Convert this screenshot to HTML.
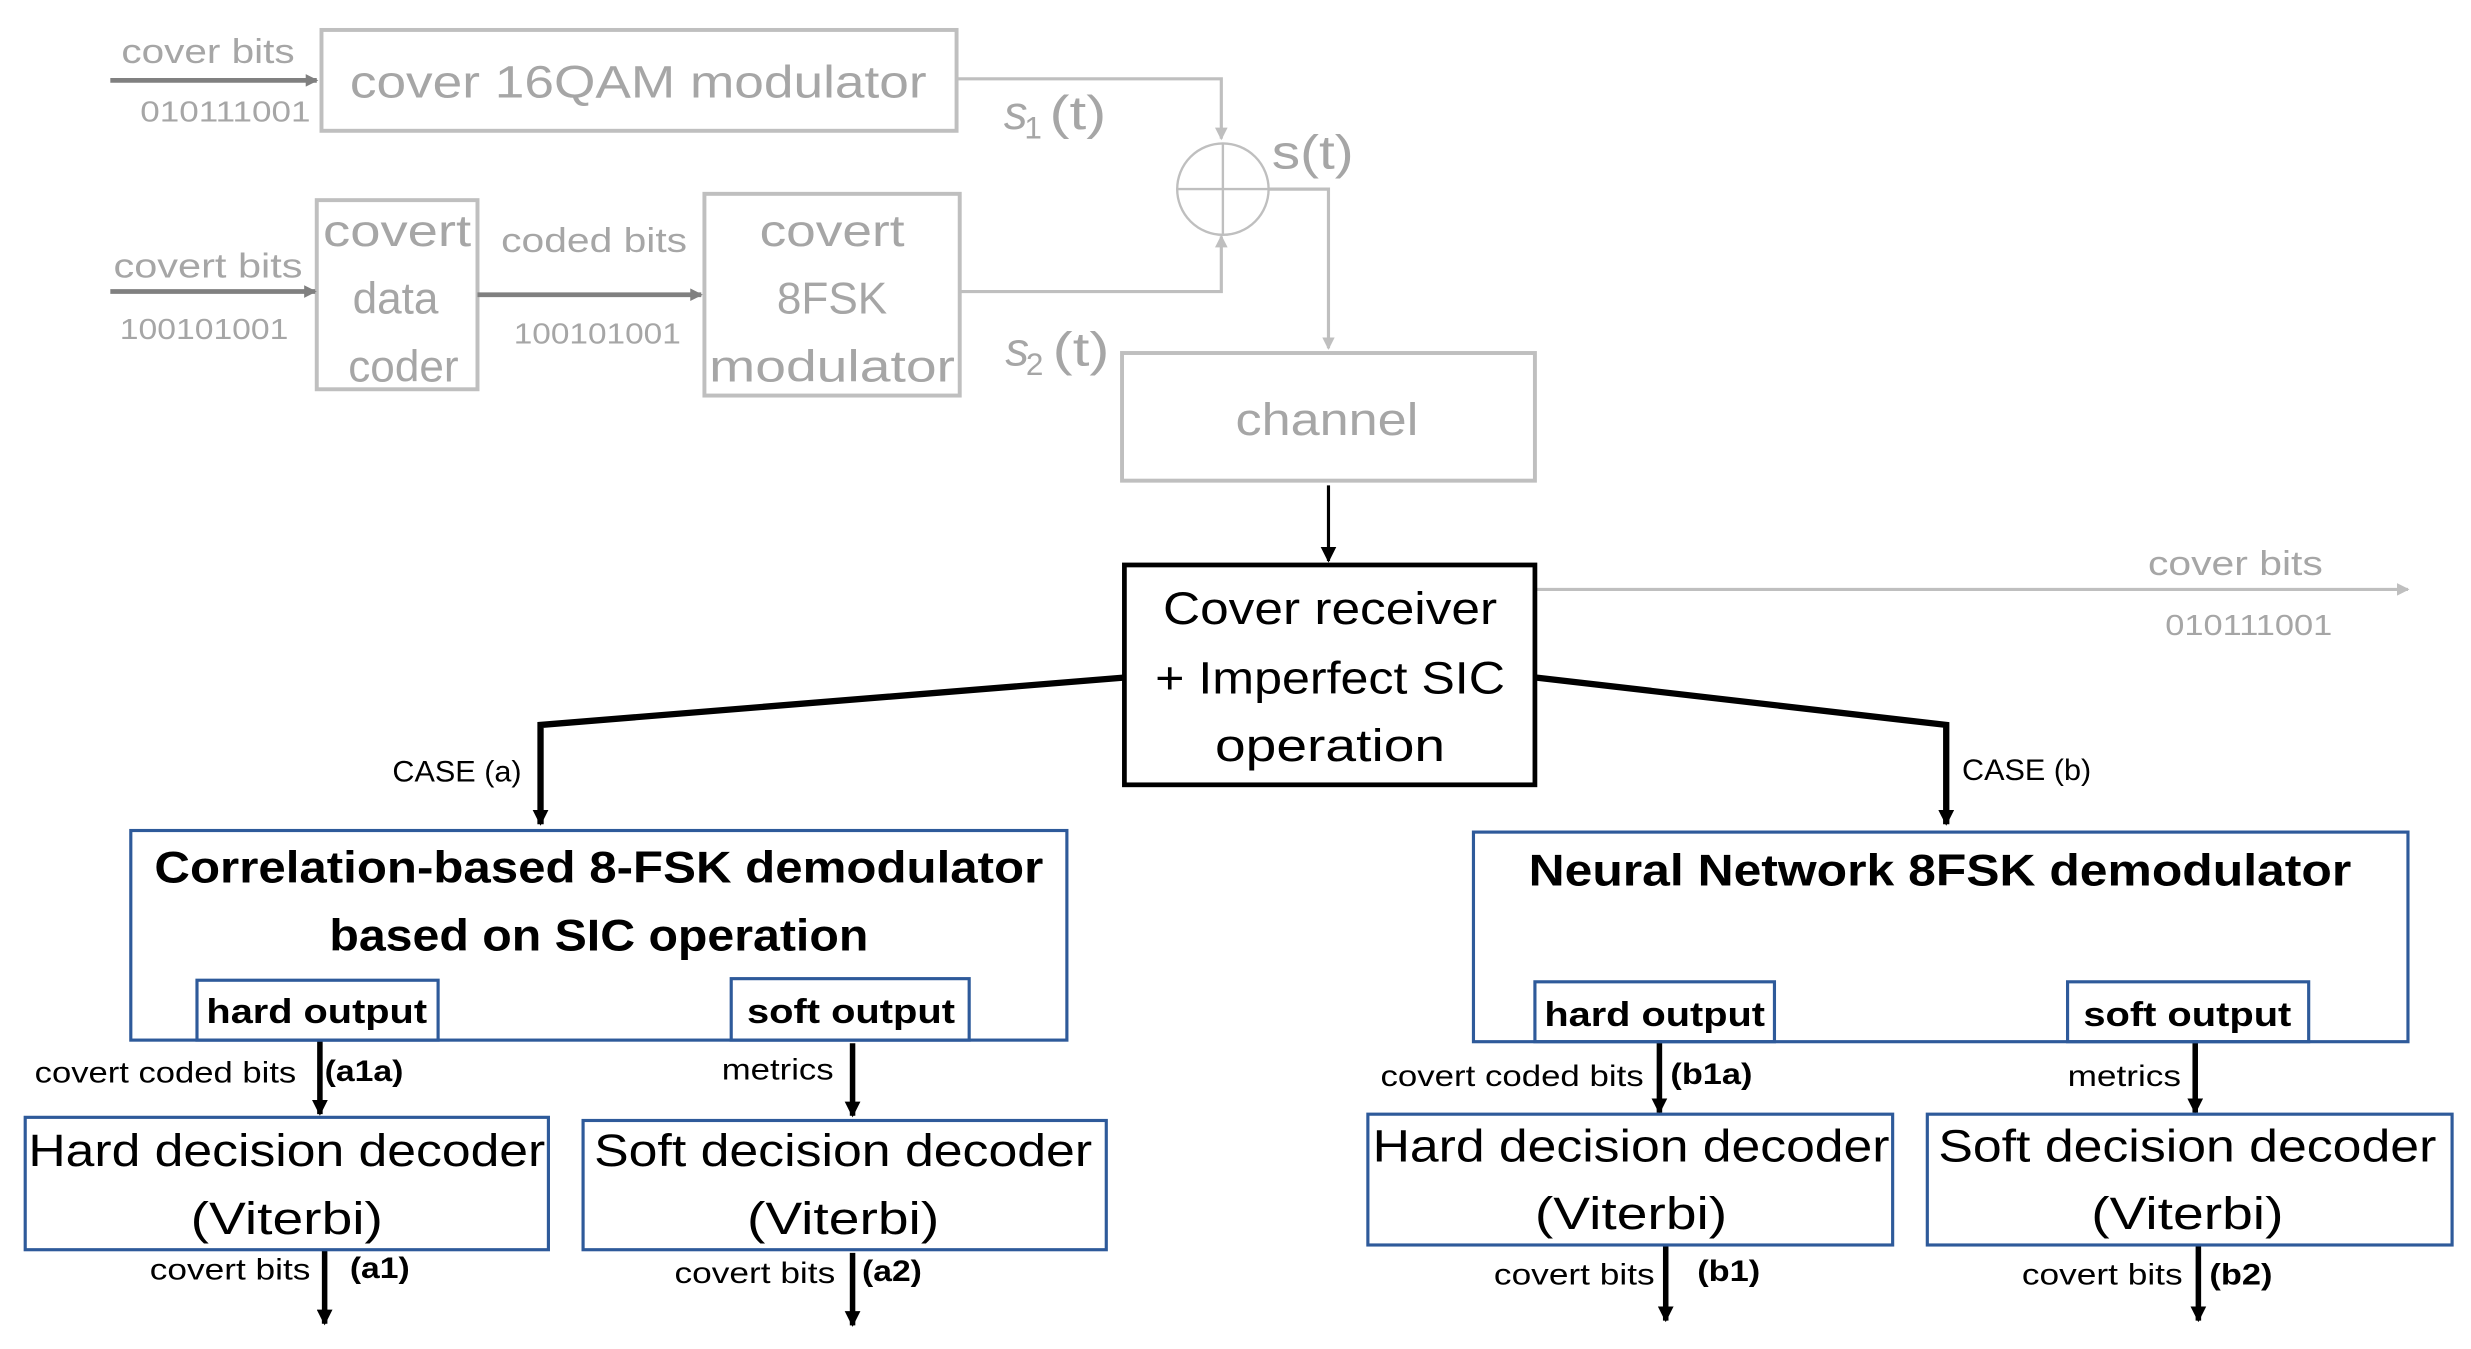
<!DOCTYPE html>
<html><head><meta charset="utf-8"><style>
html,body{margin:0;padding:0;background:#fff;}
svg{display:block;}
text{font-family:"Liberation Sans",sans-serif;}
</style></head><body>
<svg width="2471" height="1349" viewBox="0 0 1568 856" preserveAspectRatio="none" xmlns="http://www.w3.org/2000/svg">
<defs>
<marker id="ag" markerWidth="8" markerHeight="8" refX="7" refY="4" orient="auto" markerUnits="userSpaceOnUse"><path d="M0,0 L8,4 L0,8 Z" fill="#808080"/></marker>
<marker id="al" markerWidth="8" markerHeight="8" refX="7" refY="4" orient="auto" markerUnits="userSpaceOnUse"><path d="M0,0 L8,4 L0,8 Z" fill="#bfbfbf"/></marker>
<marker id="ab" markerWidth="10" markerHeight="10" refX="9" refY="5" orient="auto" markerUnits="userSpaceOnUse"><path d="M0,0 L10,5 L0,10 Z" fill="#000"/></marker>
</defs>
<g fill="none" stroke="#bfbfbf" stroke-width="2.5">
<rect x="204" y="19" width="403" height="64"/>
<rect x="201" y="127" width="102" height="120"/>
<rect x="447" y="123" width="162" height="128"/>
<rect x="712" y="224" width="262" height="81"/>
<circle cx="776" cy="120" r="29" stroke-width="1.5"/>
<line x1="747" y1="120" x2="805" y2="120" stroke-width="1.5"/>
<line x1="776" y1="91" x2="776" y2="149" stroke-width="1.5"/>
</g>
<g fill="none" stroke="#bfbfbf" stroke-width="2">
<polyline points="607,50 775,50 775,88" marker-end="url(#al)"/>
<polyline points="609,185 775,185 775,150" marker-end="url(#al)"/>
<polyline points="805,120 843,120 843,221" marker-end="url(#al)"/>
<line x1="975" y1="374" x2="1528" y2="374" marker-end="url(#al)"/>
</g>
<g stroke="#808080" stroke-width="3">
<line x1="70" y1="51" x2="201" y2="51" marker-end="url(#ag)"/>
<line x1="70" y1="185" x2="200" y2="185" marker-end="url(#ag)"/>
<line x1="303" y1="187" x2="445" y2="187" marker-end="url(#ag)"/>
</g>
<g fill="#a6a6a6">
<text x="77" y="40" font-size="22" textLength="110" lengthAdjust="spacingAndGlyphs">cover bits</text>
<text x="89" y="77" font-size="18" font-family="Liberation Mono" textLength="108" lengthAdjust="spacingAndGlyphs">010111001</text>
<text x="222" y="62" font-size="29" textLength="366" lengthAdjust="spacingAndGlyphs">cover 16QAM modulator</text>
<text x="637" y="82" font-size="30" font-family="Liberation Serif" font-style="italic">s</text>
<text x="650" y="88" font-size="20">1</text>
<text x="666" y="82" font-size="30" textLength="36" lengthAdjust="spacingAndGlyphs">(t)</text>
<text x="807" y="107" font-size="30" textLength="52" lengthAdjust="spacingAndGlyphs">s(t)</text>
<text x="72" y="176" font-size="22" textLength="120" lengthAdjust="spacingAndGlyphs">covert bits</text>
<text x="76" y="215" font-size="18" font-family="Liberation Mono" textLength="107" lengthAdjust="spacingAndGlyphs">100101001</text>
<text x="252" y="156" font-size="28" text-anchor="middle" textLength="94" lengthAdjust="spacingAndGlyphs">covert</text>
<text x="251" y="199" font-size="28" text-anchor="middle">data</text>
<text x="256" y="242" font-size="28" text-anchor="middle">coder</text>
<text x="318" y="160" font-size="22" textLength="118" lengthAdjust="spacingAndGlyphs">coded bits</text>
<text x="326" y="218" font-size="18" font-family="Liberation Mono" textLength="106" lengthAdjust="spacingAndGlyphs">100101001</text>
<text x="528" y="156" font-size="28" text-anchor="middle" textLength="92" lengthAdjust="spacingAndGlyphs">covert</text>
<text x="528" y="199" font-size="28" text-anchor="middle">8FSK</text>
<text x="528" y="242" font-size="28" text-anchor="middle" textLength="156" lengthAdjust="spacingAndGlyphs">modulator</text>
<text x="638" y="232" font-size="30" font-family="Liberation Serif" font-style="italic">s</text>
<text x="651" y="238" font-size="20">2</text>
<text x="668" y="232" font-size="30" textLength="36" lengthAdjust="spacingAndGlyphs">(t)</text>
<text x="842" y="276" font-size="29" text-anchor="middle" textLength="116" lengthAdjust="spacingAndGlyphs">channel</text>
<text x="1363" y="365" font-size="22" textLength="111" lengthAdjust="spacingAndGlyphs">cover bits</text>
<text x="1374" y="403" font-size="18" font-family="Liberation Mono" textLength="106" lengthAdjust="spacingAndGlyphs">010111001</text>
</g>
<g stroke="#000" fill="none">
<line x1="843" y1="308" x2="843" y2="356" stroke-width="2" marker-end="url(#ab)"/>
<rect x="713.5" y="358.5" width="260.5" height="139.5" stroke-width="3"/>
<polyline points="713,430 343,460 343,523" stroke-width="4" marker-end="url(#ab)"/>
<polyline points="975,430 1235,460 1235,523" stroke-width="4" marker-end="url(#ab)"/>
<g stroke-width="3.5">
<line x1="203" y1="660" x2="203" y2="707" marker-end="url(#ab)"/>
<line x1="541" y1="662" x2="541" y2="708" marker-end="url(#ab)"/>
<line x1="206" y1="793" x2="206" y2="840" marker-end="url(#ab)"/>
<line x1="541" y1="795" x2="541" y2="841" marker-end="url(#ab)"/>
<line x1="1053" y1="660" x2="1053" y2="706" marker-end="url(#ab)"/>
<line x1="1393" y1="660" x2="1393" y2="706" marker-end="url(#ab)"/>
<line x1="1057" y1="790" x2="1057" y2="838" marker-end="url(#ab)"/>
<line x1="1395" y1="790" x2="1395" y2="838" marker-end="url(#ab)"/>
</g>
</g>
<g fill="none" stroke="#2e5a9a" stroke-width="2">
<rect x="83" y="527" width="594" height="133"/>
<rect x="125" y="622" width="153" height="38"/>
<rect x="464" y="621" width="151" height="39"/>
<rect x="16" y="709" width="332" height="84"/>
<rect x="370" y="711" width="332" height="82"/>
<rect x="935" y="528" width="593" height="133"/>
<rect x="974" y="623" width="152" height="38"/>
<rect x="1312" y="623" width="153" height="38"/>
<rect x="868" y="707" width="333" height="83"/>
<rect x="1223" y="707" width="333" height="83"/>
</g>
<g fill="#000">
<text x="844" y="396" font-size="29" text-anchor="middle" textLength="212" lengthAdjust="spacingAndGlyphs">Cover receiver</text>
<text x="844" y="440" font-size="29" text-anchor="middle" textLength="222" lengthAdjust="spacingAndGlyphs">+ Imperfect SIC</text>
<text x="844" y="483" font-size="29" text-anchor="middle" textLength="146" lengthAdjust="spacingAndGlyphs">operation</text>
<text x="249" y="496" font-size="19" textLength="82" lengthAdjust="spacingAndGlyphs">CASE (a)</text>
<text x="1245" y="495" font-size="19" textLength="82" lengthAdjust="spacingAndGlyphs">CASE (b)</text>
<g font-weight="bold">
<text x="380" y="560" font-size="28" text-anchor="middle" textLength="564" lengthAdjust="spacingAndGlyphs">Correlation-based 8-FSK demodulator</text>
<text x="380" y="603" font-size="28" text-anchor="middle" textLength="342" lengthAdjust="spacingAndGlyphs">based on SIC operation</text>
<text x="201" y="649" font-size="22" text-anchor="middle" textLength="140" lengthAdjust="spacingAndGlyphs">hard output</text>
<text x="540" y="649" font-size="22" text-anchor="middle" textLength="132" lengthAdjust="spacingAndGlyphs">soft output</text>
<text x="1231" y="562" font-size="28" text-anchor="middle" textLength="522" lengthAdjust="spacingAndGlyphs">Neural Network 8FSK demodulator</text>
<text x="1050" y="651" font-size="22" text-anchor="middle" textLength="140" lengthAdjust="spacingAndGlyphs">hard output</text>
<text x="1388" y="651" font-size="22" text-anchor="middle" textLength="132" lengthAdjust="spacingAndGlyphs">soft output</text>
<text x="206" y="686" font-size="19" textLength="50" lengthAdjust="spacingAndGlyphs">(a1a)</text>
<text x="222" y="811" font-size="19" textLength="38" lengthAdjust="spacingAndGlyphs">(a1)</text>
<text x="547" y="813" font-size="19" textLength="38" lengthAdjust="spacingAndGlyphs">(a2)</text>
<text x="1060" y="688" font-size="19" textLength="52" lengthAdjust="spacingAndGlyphs">(b1a)</text>
<text x="1077" y="813" font-size="19" textLength="40" lengthAdjust="spacingAndGlyphs">(b1)</text>
<text x="1402" y="815" font-size="19" textLength="40" lengthAdjust="spacingAndGlyphs">(b2)</text>
</g>
<text x="22" y="687" font-size="19" textLength="166" lengthAdjust="spacingAndGlyphs">covert coded bits</text>
<text x="458" y="685" font-size="19" textLength="71" lengthAdjust="spacingAndGlyphs">metrics</text>
<text x="95" y="812" font-size="19" textLength="102" lengthAdjust="spacingAndGlyphs">covert bits</text>
<text x="428" y="814" font-size="19" textLength="102" lengthAdjust="spacingAndGlyphs">covert bits</text>
<text x="876" y="689" font-size="19" textLength="167" lengthAdjust="spacingAndGlyphs">covert coded bits</text>
<text x="1312" y="689" font-size="19" textLength="72" lengthAdjust="spacingAndGlyphs">metrics</text>
<text x="948" y="815" font-size="19" textLength="102" lengthAdjust="spacingAndGlyphs">covert bits</text>
<text x="1283" y="815" font-size="19" textLength="102" lengthAdjust="spacingAndGlyphs">covert bits</text>
<text x="182" y="740" font-size="29" text-anchor="middle" textLength="328" lengthAdjust="spacingAndGlyphs">Hard decision decoder</text>
<text x="182" y="783" font-size="29" text-anchor="middle" textLength="122" lengthAdjust="spacingAndGlyphs">(Viterbi)</text>
<text x="535" y="740" font-size="29" text-anchor="middle" textLength="316" lengthAdjust="spacingAndGlyphs">Soft decision decoder</text>
<text x="535" y="783" font-size="29" text-anchor="middle" textLength="122" lengthAdjust="spacingAndGlyphs">(Viterbi)</text>
<text x="1035" y="737" font-size="29" text-anchor="middle" textLength="328" lengthAdjust="spacingAndGlyphs">Hard decision decoder</text>
<text x="1035" y="780" font-size="29" text-anchor="middle" textLength="122" lengthAdjust="spacingAndGlyphs">(Viterbi)</text>
<text x="1388" y="737" font-size="29" text-anchor="middle" textLength="316" lengthAdjust="spacingAndGlyphs">Soft decision decoder</text>
<text x="1388" y="780" font-size="29" text-anchor="middle" textLength="122" lengthAdjust="spacingAndGlyphs">(Viterbi)</text>
</g>
</svg>
</body></html>
